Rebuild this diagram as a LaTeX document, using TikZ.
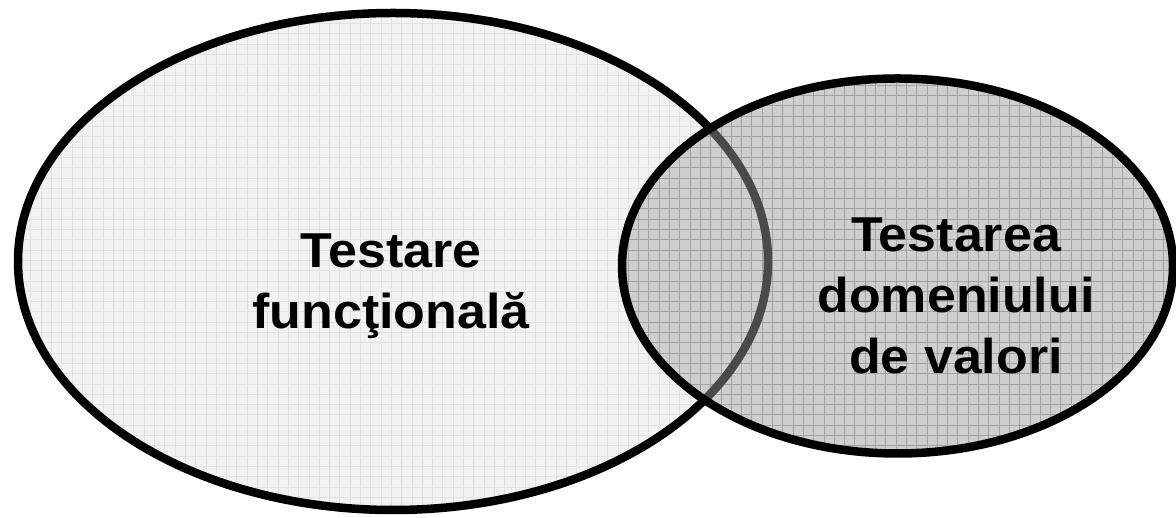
\documentclass[tikz,border=0pt]{standalone}
\usepackage{fontspec}
\setmainfont{Liberation Sans}
\definecolor{lightfill}{HTML}{F2F2F2}
\definecolor{lightgrid}{HTML}{E2E2E2}
\definecolor{darkfill}{HTML}{CFCFCF}
\definecolor{darkgrid}{HTML}{A2A2A2}
\definecolor{hiddenline}{HTML}{4A4A4A}
\begin{document}
\begin{tikzpicture}[x=1pt,y=1pt,
  outline/.style={line width=8.5pt},
  gridline/.style={line width=1pt, step=10.3pt},
  setlabel/.style={font=\fontsize{49}{61}\selectfont\bfseries, align=center,
    inner sep=0pt, xscale=1.06, transform shape}]
\useasboundingbox (0,0) rectangle (1176,518);
% left set: functional testing
\def\leftset{(393,256.5) ellipse [x radius=375, y radius=248.5]}
% right set: domain testing
\def\rightset{(897.5,252) ellipse [x radius=275.5, y radius=187.5]}

\fill[lightfill] \leftset;
\begin{scope}
  \clip \leftset;
  \draw[gridline, lightgrid] (0,0) grid (1176,518);
\end{scope}
\draw[outline, black] \leftset;

\fill[darkfill] \rightset;
\begin{scope}
  \clip \rightset;
  \draw[gridline, darkgrid] (0,0) grid (1176,518);
  \draw[outline, hiddenline] \leftset;
\end{scope}
\draw[outline, black] \rightset;

\node[setlabel] (functional) at (391,232) {Testare\\funcţională};
\node[setlabel] (domain) at (956,222) {Testarea\\domeniului\\de valori};
\end{tikzpicture}
\end{document}
